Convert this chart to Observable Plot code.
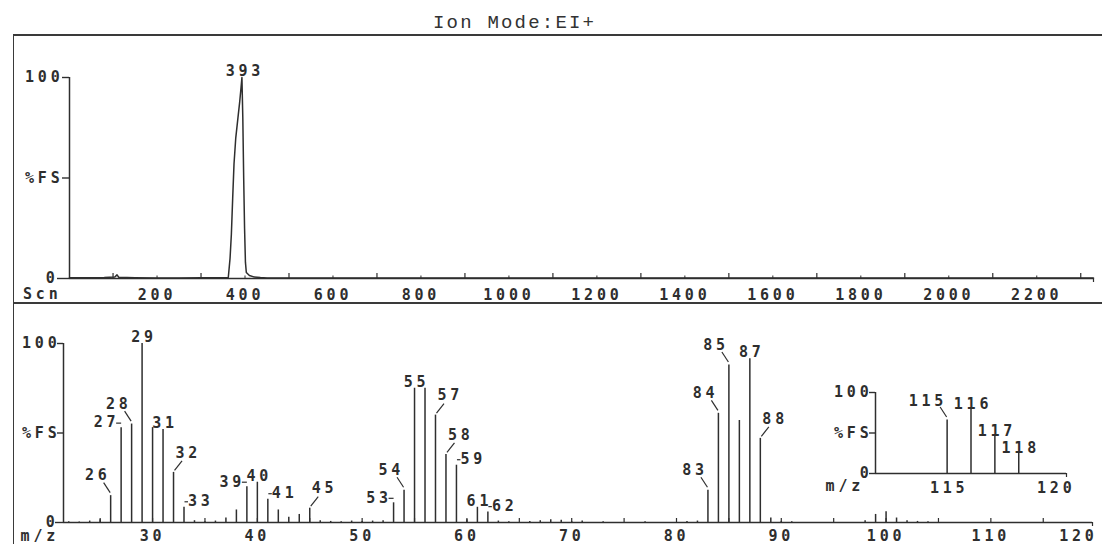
<!DOCTYPE html>
<html>
<head>
<meta charset="utf-8">
<script src="https://cdn.jsdelivr.net/npm/d3@7"></script>
<script src="https://cdn.jsdelivr.net/npm/@observablehq/plot@0.6"></script>
<style>
  html, body { margin: 0; padding: 0; background: #fff; }
  #sheet { position: relative; width: 1102px; height: 544px; overflow: hidden; background: #fff; }
  .rule { position: absolute; background: #3a3a3a; }
  #title {
    position: absolute; left: 433px; top: 14px;
    font-family: "Liberation Mono", "DejaVu Sans Mono", monospace;
    font-size: 19px; line-height: 19px; letter-spacing: 2.2px;
    color: #333; white-space: nowrap;
  }
</style>
</head>
<body>
<div id="sheet">
  <div id="title">Ion Mode:EI+</div>
  <div class="rule" style="left:13px; top:34px; width:1089px; height:1.5px"></div>
  <div class="rule" style="left:12.5px; top:34px; width:1.5px; height:510px"></div>
  <div class="rule" style="left:13px; top:302px; width:1089px; height:1.5px"></div>
</div>
<script>
// ---------- total ion current (upper panel) ----------
const ticScans   = [1, 40, 80, 104, 109, 113, 150, 200, 250, 300, 340, 362, 366, 369, 372, 375, 379, 384, 388, 391, 393, 395, 397, 399, 401, 403, 410, 420, 435, 450, 600, 900, 1200, 1500, 1800, 2100, 2329];
const ticPercent = [0.4, 0.4, 0.5, 0.7, 1.8, 0.6, 0.4, 0.3, 0.3, 0.4, 0.4, 0.5, 10, 22, 40, 57, 70, 80, 88, 95, 100, 80, 50, 25, 8, 3, 1.5, 0.8, 0.5, 0.3, 0.3, 0.3, 0.3, 0.3, 0.3, 0.3, 0.3];
const ticApexScans = [393];
const scanDomain = [1, 2329];
const scanTickLabels = [200, 400, 600, 800, 1000, 1200, 1400, 1600, 1800, 2000, 2200];
const scanTickMarks  = [100, 300, 500, 700, 900, 1100, 1300, 1500, 1700, 1900, 2100, 2300];

// ---------- mass spectrum (lower panel) ----------
const mzValues    = [22, 23, 24, 25, 26, 27, 28, 29, 30, 31, 32, 33, 34, 35, 36, 37, 38, 39, 40, 41, 42, 43, 44, 45, 46, 47, 48, 49, 50, 51, 52, 53, 54, 55, 56, 57, 58, 59, 60, 61, 62, 63, 64, 66, 67, 68, 69, 70, 71, 73, 77, 81, 82, 83, 84, 85, 86, 87, 88, 89, 90, 91, 98, 99, 100, 101, 102, 103, 104];
const mzIntensity = [0.4, 0.3, 0.8, 1.5, 15, 53, 55, 100, 53, 52, 28, 8.5, 1, 0.4, 0.8, 2.5, 7, 20, 22.5, 13, 7, 3, 4.5, 8, 1, 0.6, 0.4, 0.8, 0.5, 0.8, 1, 11, 18, 75, 75, 60, 38, 32, 1.5, 8.5, 5.8, 0.8, 0.4, 0.5, 1, 1.5, 1.2, 0.4, 0.8, 0.4, 0.4, 0.6, 0.8, 18, 61, 88, 57, 91.5, 47, 2.5, 0.6, 0.4, 1, 4.5, 6, 2.5, 1, 0.6, 0.4];
const mzDomain = [21.5, 119.7];
const mzTickLabels = [30, 40, 50, 60, 70, 80, 90, 100, 110];
const mzTickLast = [120];
const mzTickMarks = [25, 30, 35, 40, 45, 50, 55, 60, 65, 70, 75, 80, 85, 90, 95, 100, 105, 110, 115];

// peak annotations, grouped by where the label sits
const labelsAbove   = [29, 31, 40, 55, 61, 87];
const labelsUpLeft  = [26, 28, 54, 83, 84, 85];
const labelsUpRight = [32, 45, 57, 58, 88];
const labelsLeft    = [27, 39, 53];
const labelsRight   = [33, 41, 59, 62];

// ---------- expanded high-mass region (inset) ----------
const insetMz = [115, 116, 117, 118];
const insetIntensity = [66, 80, 46, 25];
const insetDomain = [112, 120];
const insetTickLabels = [115];
const insetTickLast = [120];
const insetLabelsUpLeft = [115];
const insetLabelsAbove = [116, 117, 118];

// shared y ticks
const pctTicks = [50, 100];
const pctTickText = ["%FS", "100"];
const pctZero = [0];

const INK = "#2e2e2e";
const FONT = "'DejaVu Sans Mono', monospace";
const svgStyle = (left, top) => ({
  position: "absolute", left: left + "px", top: top + "px",
  background: "transparent", color: INK, fontFamily: FONT,
  fontSize: "15px", fontWeight: "bold", letterSpacing: "3.8px", overflow: "visible"
});

// short leader strokes drawn next to a peak top
const segment = (x1, y1, x2, y2) => ({draw(ctx) { ctx.moveTo(x1, y1); ctx.lineTo(x2, y2); }});
const leaderUpLeft = segment(-7, -13, -0.5, -3);
const leaderUpRight = segment(1, -2, 8.5, -11.5);
const dashLeft = segment(-5, -4.5, 0, -4.5);
const dashRight = segment(0.5, -5.5, 4, -5.5);

const pctLabel = (d) => pctTickText[pctTicks.indexOf(d)];

const sheet = document.getElementById("sheet");

// ----- upper panel -----
const tic = ticScans.map((s, i) => ({scan: s, pct: ticPercent[i]}));
const apex = ticApexScans.map((s) => ({scan: s, pct: ticPercent[ticScans.indexOf(s)]}));

const topChart = Plot.plot({
  width: 1102, height: 266,
  marginTop: 41, marginBottom: 24, marginLeft: 69, marginRight: 9,
  x: {domain: scanDomain, axis: null},
  y: {domain: [0, 100], axis: null},
  style: svgStyle(0, 36),
  marks: [
    Plot.ruleY([0], {stroke: INK, strokeWidth: 1.5}),
    Plot.ruleX([scanDomain[0]], {stroke: INK, strokeWidth: 1.5}),
    Plot.axisY(pctTicks, {tickFormat: pctLabel, tickSize: 7, tickPadding: -1, label: null, strokeWidth: 1.4}),
    Plot.axisY(pctZero, {tickFormat: (d) => String(d), tickSize: 12, tickPadding: -1, label: null, strokeWidth: 1.4}),
    Plot.ruleX(scanTickMarks, {x: (d) => d, y1: 0, y2: 0, insetTop: -5, stroke: INK, strokeWidth: 1.2}),
    Plot.ruleX(scanTickLabels, {x: (d) => d, y1: 0, y2: 0, insetTop: -2.5, stroke: INK, strokeWidth: 1}),
    Plot.ruleX([scanDomain[1]], {y1: 0, y2: 0, insetBottom: -4, stroke: INK, strokeWidth: 1.2}),
    Plot.text(scanTickLabels, {x: (d) => d, y: 0, text: (d) => String(d), dy: 17, fill: INK}),
    Plot.text(["Scn"], {x: scanDomain[0], y: 0, text: (d) => d, textAnchor: "end", dx: -8, dy: 16, fill: INK}),
    Plot.line(tic, {x: "scan", y: "pct", stroke: INK, strokeWidth: 1.5}),
    Plot.text(apex, {x: "scan", y: "pct", text: (d) => String(d.scan), dy: -6.5, dx: 3, fill: INK})
  ]
});
sheet.appendChild(topChart);

// ----- lower panel -----
const spectrum = mzValues.map((m, i) => ({mz: m, pct: mzIntensity[i]}));
const intensityOf = new Map(mzValues.map((m, i) => [m, mzIntensity[i]]));
const rows = (list) => list.map((m) => ({mz: m, pct: intensityOf.get(m)}));

const bottomChart = Plot.plot({
  width: 1102, height: 241,
  marginTop: 40, marginBottom: 22, marginLeft: 63, marginRight: 10,
  x: {domain: mzDomain, axis: null},
  y: {domain: [0, 100], axis: null},
  style: svgStyle(0, 303),
  marks: [
    Plot.ruleY([0], {stroke: INK, strokeWidth: 1.5}),
    Plot.ruleX([mzDomain[0]], {stroke: INK, strokeWidth: 1.5}),
    Plot.axisY(pctTicks, {tickFormat: pctLabel, tickSize: 6, tickPadding: -3, label: null, strokeWidth: 1.4}),
    Plot.axisY(pctZero, {tickFormat: (d) => String(d), tickSize: 8, tickPadding: -3, label: null, strokeWidth: 1.4}),
    Plot.ruleX(mzTickMarks, {x: (d) => d, y1: 0, y2: 0, insetTop: -4, stroke: INK, strokeWidth: 1.2}),
    Plot.ruleX([mzDomain[1]], {y1: 0, y2: 0, insetBottom: -4, stroke: INK, strokeWidth: 1.2}),
    Plot.text(mzTickLabels, {x: (d) => d, y: 0, text: (d) => String(d), dy: 13.5, fill: INK}),
    Plot.text(mzTickLast, {x: (d) => d, y: 0, text: (d) => String(d), textAnchor: "end", dx: 2, dy: 13.5, fill: INK}),
    Plot.text(["m/z"], {x: mzDomain[0], y: 0, text: (d) => d, textAnchor: "end", dx: -4.4, dy: 14, fill: INK}),
    Plot.ruleX(spectrum, {x: "mz", y1: 0, y2: "pct", stroke: INK, strokeWidth: 1.5}),
    // labels directly above the peak
    Plot.text(rows(labelsAbove), {x: "mz", y: "pct", text: (d) => String(d.mz), dx: 2, dy: -6.5, fill: INK}),
    // labels up-left with a leader
    Plot.dot(rows(labelsUpLeft), {x: "mz", y: "pct", symbol: leaderUpLeft, fill: "none", stroke: INK, strokeWidth: 1.2}),
    Plot.text(rows(labelsUpLeft), {x: "mz", y: "pct", text: (d) => String(d.mz), textAnchor: "end", dx: 0, dy: -20, fill: INK}),
    // labels up-right with a leader
    Plot.dot(rows(labelsUpRight), {x: "mz", y: "pct", symbol: leaderUpRight, fill: "none", stroke: INK, strokeWidth: 1.2}),
    Plot.text(rows(labelsUpRight), {x: "mz", y: "pct", text: (d) => String(d.mz), textAnchor: "start", dx: 2, dy: -19.5, fill: INK}),
    // labels to the left with a dash
    Plot.dot(rows(labelsLeft), {x: "mz", y: "pct", symbol: dashLeft, fill: "none", stroke: INK, strokeWidth: 1.2}),
    Plot.text(rows(labelsLeft), {x: "mz", y: "pct", text: (d) => String(d.mz), textAnchor: "end", dx: -1.7, dy: -5, fill: INK}),
    // labels to the right with a dash
    Plot.dot(rows(labelsRight), {x: "mz", y: "pct", symbol: dashRight, fill: "none", stroke: INK, strokeWidth: 1.2}),
    Plot.text(rows(labelsRight), {x: "mz", y: "pct", text: (d) => String(d.mz), textAnchor: "start", dx: 4, dy: -6, fill: INK})
  ]
});
sheet.appendChild(bottomChart);

// ----- inset -----
const inset = insetMz.map((m, i) => ({mz: m, pct: insetIntensity[i]}));
const insetOf = new Map(insetMz.map((m, i) => [m, insetIntensity[i]]));
const insetRows = (list) => list.map((m) => ({mz: m, pct: insetOf.get(m)}));

const insetChart = Plot.plot({
  width: 290, height: 120,
  marginTop: 12, marginBottom: 27, marginLeft: 75, marginRight: 24,
  x: {domain: insetDomain, axis: null},
  y: {domain: [0, 100], axis: null},
  style: svgStyle(800, 380),
  marks: [
    Plot.ruleY([0], {stroke: INK, strokeWidth: 1.5}),
    Plot.ruleX([insetDomain[0]], {stroke: INK, strokeWidth: 1.5}),
    Plot.axisY(pctTicks, {tickFormat: pctLabel, tickSize: 6, tickPadding: -3, label: null, strokeWidth: 1.4}),
    Plot.axisY(pctZero, {tickFormat: (d) => String(d), tickSize: 6, tickPadding: -3, label: null, strokeWidth: 1.4}),
    Plot.ruleX([insetDomain[1]], {y1: 0, y2: 0, insetBottom: -4, stroke: INK, strokeWidth: 1.2}),
    Plot.text(insetTickLabels, {x: (d) => d, y: 0, text: (d) => String(d), dx: 2, dy: 15, fill: INK}),
    Plot.text(insetTickLast, {x: (d) => d, y: 0, text: (d) => String(d), textAnchor: "end", dx: 9, dy: 15, fill: INK}),
    Plot.text(["m/z"], {x: insetDomain[0], y: 0, text: (d) => d, textAnchor: "end", dx: -11.4, dy: 13, fill: INK}),
    Plot.ruleX(inset, {x: "mz", y1: 0, y2: "pct", stroke: INK, strokeWidth: 1.5}),
    Plot.dot(insetRows(insetLabelsUpLeft), {x: "mz", y: "pct", symbol: leaderUpLeft, fill: "none", stroke: INK, strokeWidth: 1.2}),
    Plot.text(insetRows(insetLabelsUpLeft), {x: "mz", y: "pct", text: (d) => String(d.mz), textAnchor: "end", dx: 0, dy: -19, fill: INK}),
    Plot.text(insetRows(insetLabelsAbove), {x: "mz", y: "pct", text: (d) => String(d.mz), dx: 2, dy: -5, fill: INK})
  ]
});
sheet.appendChild(insetChart);
</script>
</body>
</html>
